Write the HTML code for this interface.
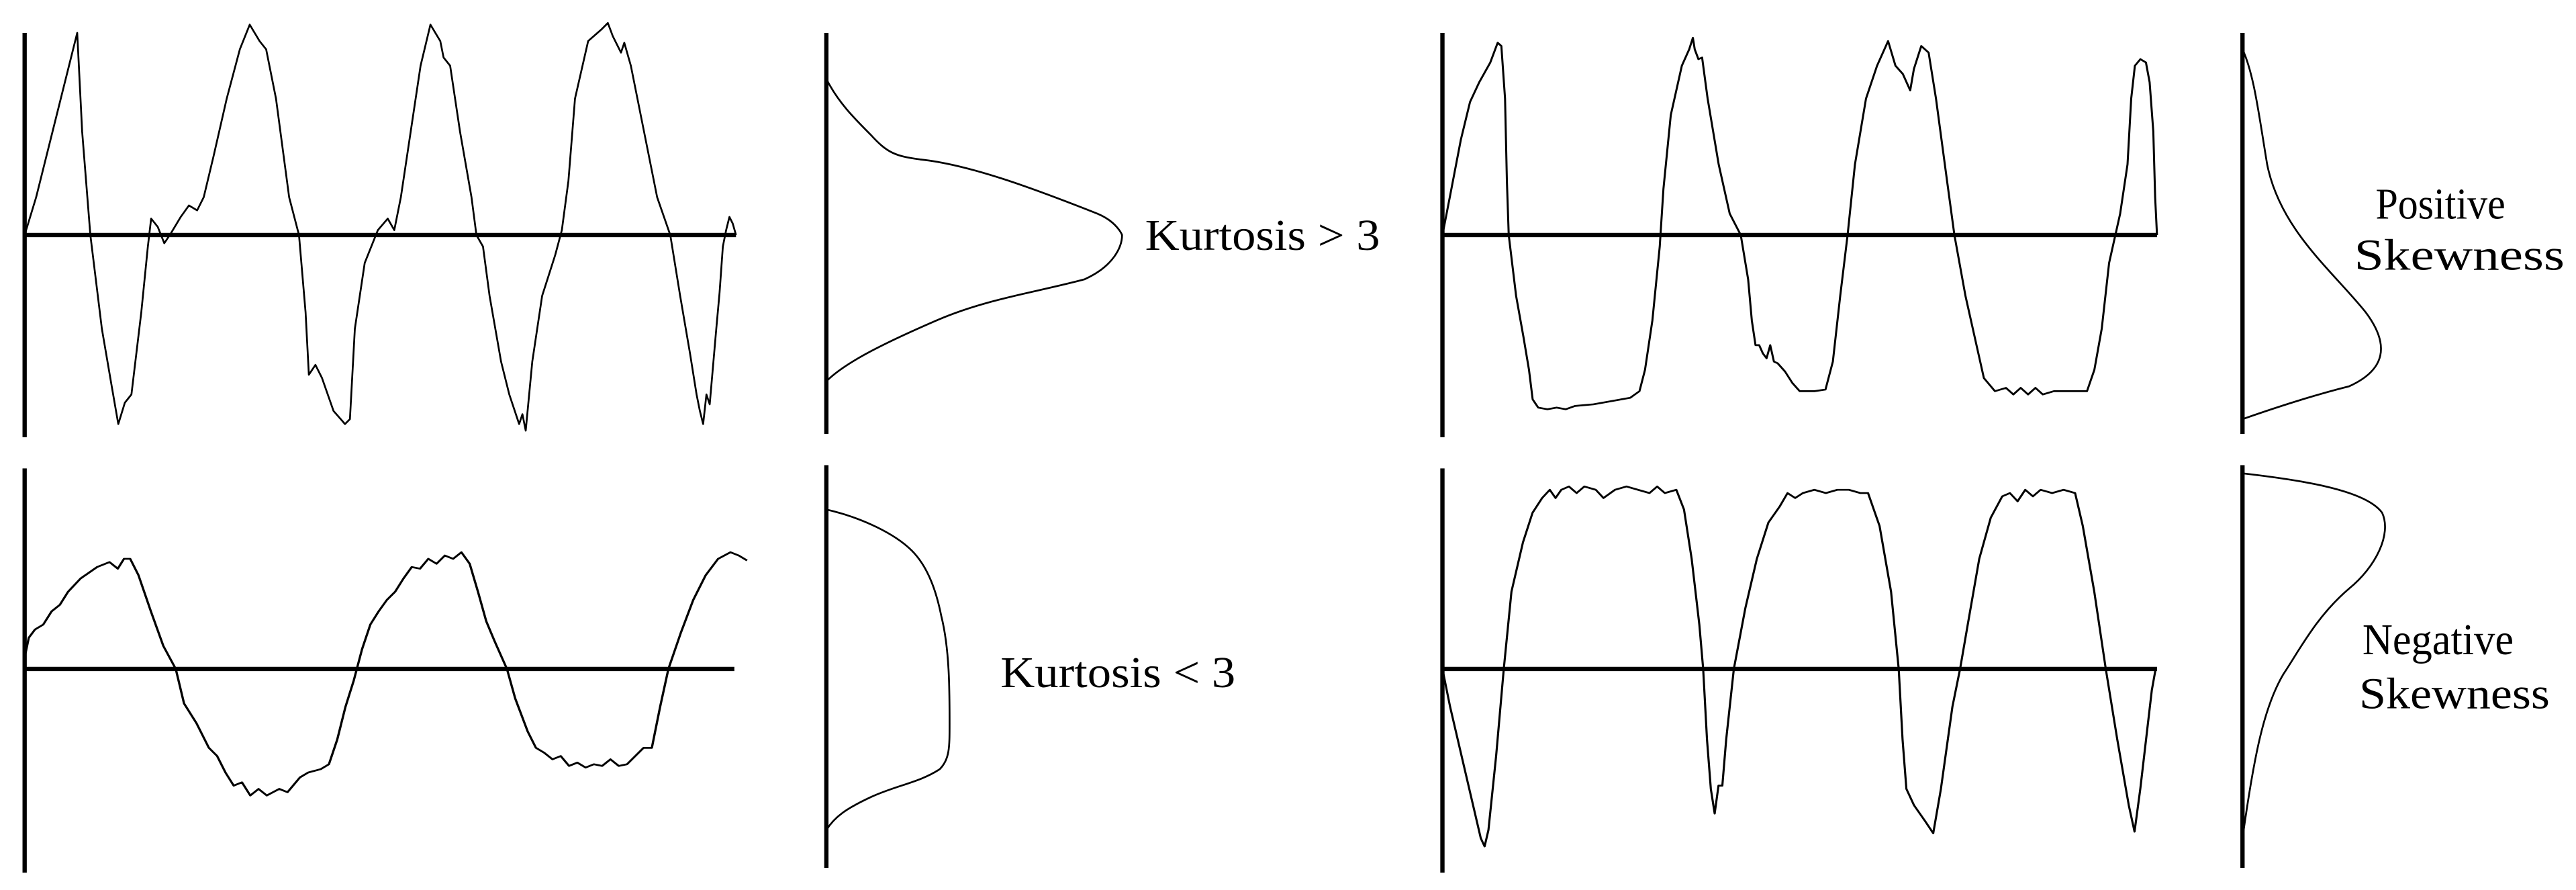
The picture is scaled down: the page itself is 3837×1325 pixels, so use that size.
<!DOCTYPE html>
<html><head><meta charset="utf-8"><style>
html,body{margin:0;padding:0;background:#fff;}
svg{display:block}
text{font-family:"Liberation Serif",serif;font-size:27px;fill:#000}
.ax{stroke:#000;stroke-width:2.6;fill:none}
.w{stroke:#000;stroke-width:1.1;fill:none;stroke-linejoin:round}
</style></head><body>
<svg width="3837" height="1325" viewBox="0 0 1568 541.5" preserveAspectRatio="none">
<!-- top-left -->
<line class="ax" x1="15" y1="20" x2="15" y2="266"/>
<line class="ax" x1="14" y1="143" x2="448" y2="143"/>
<polyline class="w" points="15,143 22,120 32,80 42,40 47,20 50,80 55,143 62,200 68,235 72,258 76,245 80,240 86,190 90,150 92,133 96,138 100,148 104,142 110,132 115,125 120,128 124,120 130,95 138,60 146,30 152,15 155,20 158,25 162,30 168,60 176,120 182,143 186,190 188,228 192,222 196,230 203,250 210,258 213,255 216,200 222,160 230,140 236,133 240,140 244,120 250,80 256,40 262,15 268,25 270,35 274,40 280,80 287,120 290,143 294,150 298,180 305,220 310,240 316,258 318,252 320,262 324,220 330,180 338,155 342,140 346,110 350,60 358,25 366,18 370,14 373,22 376,28 378,32 380,26 384,40 392,80 400,120 408,143 414,180 420,215 424,240 426,250 428,258 430,240 432,246 436,200 438,178 440,150 442,140 444,132 446,136 448,143"/>
<line class="ax" x1="503" y1="20" x2="503" y2="264"/>
<path class="w" d="M503,48 C510,62 520,72 530,82 C540,93 545,95 560,97 C590,100 630,115 668,130 C680,135 683,143 683,143 C683,150 678,162 660,170 C630,178 600,182 570,195 C540,208 515,220 503,232"/>
<text x="697" y="152" textLength="143" lengthAdjust="spacingAndGlyphs">Kurtosis &gt; 3</text>
<!-- bottom-left -->
<line class="ax" x1="15" y1="285" x2="15" y2="531"/>
<line class="ax" x1="14" y1="407" x2="447" y2="407"/>
<g transform="translate(15,0) scale(1.26,1) translate(-15,0)">
<polyline class="w" points="15,400 17,388 20,383 24,380 28,372 32,368 36,360 42,352 50,345 56,342 60,346 63,340 66,340 70,350 76,372 82,393 88,407 92,428 98,440 104,455 108,460 112,470 116,478 120,476 124,484 128,480 132,484 138,480 142,482 148,473 152,470 158,468 162,465 166,450 170,430 174,414 178,395 182,380 186,372 190,365 194,360 198,352 202,345 206,346 210,340 214,343 218,338 222,340 226,336 230,343 234,360 238,378 242,390 248,407 252,425 258,445 262,455 266,458 270,462 274,460 278,466 282,464 286,467 290,465 294,466 298,462 302,466 306,465 310,460 314,455 318,455 322,430 326,407 332,385 338,365 344,350 350,340 356,336 360,338 364,341"/>
</g>
<line class="ax" x1="503" y1="283" x2="503" y2="528"/>
<path class="w" d="M503,310 C525,315 545,325 555,335 C565,345 570,360 573,375 C578,395 578,420 578,440 C578,455 578,462 572,468 C560,476 545,478 530,485 C515,492 508,497 503,505"/>
<text x="609" y="418" textLength="143" lengthAdjust="spacingAndGlyphs">Kurtosis &lt; 3</text>
<!-- top-right -->
<line class="ax" x1="878" y1="20" x2="878" y2="266"/>
<line class="ax" x1="877" y1="143" x2="1313" y2="143"/>
<g transform="translate(878,0) scale(1.121,1) translate(-878,0)">
<polyline class="w" points="878,143 882,120 888,85 893,62 898,50 904,38 908,26 910,28 912,60 913,110 914,143 918,180 922,205 925,225 927,243 930,248 935,249 940,248 945,249 950,247 960,246 970,244 980,242 985,238 988,225 992,195 996,150 998,115 1002,70 1008,40 1012,30 1014,23 1015,30 1017,36 1019,35 1022,60 1028,100 1034,130 1040,143 1044,170 1046,195 1048,210 1050,210 1052,215 1054,218 1056,210 1058,220 1060,221 1064,226 1068,233 1072,238 1080,238 1086,237 1090,220 1094,180 1098,143 1102,100 1108,60 1114,40 1118,30 1120,25 1124,40 1128,45 1132,55 1134,42 1138,28 1142,32 1146,60 1152,110 1156,143 1162,180 1168,210 1172,230 1178,238 1184,236 1188,240 1192,236 1196,240 1200,236 1204,240 1210,238 1220,238 1228,238 1232,225 1236,200 1240,160 1246,130 1250,100 1252,60 1254,40 1257,36 1260,38 1262,50 1264,80 1265,120 1266,143"/>
</g>
<line class="ax" x1="1365" y1="20" x2="1365" y2="264"/>
<path class="w" d="M1365,30 C1372,45 1375,70 1380,100 C1388,140 1420,165 1440,190 C1455,210 1452,225 1430,235 C1410,240 1385,248 1365,255"/>
<text x="1446" y="133" textLength="79" lengthAdjust="spacingAndGlyphs">Positive</text>
<text x="1433" y="164" textLength="128" lengthAdjust="spacingAndGlyphs">Skewness</text>
<!-- bottom-right -->
<line class="ax" x1="878" y1="285" x2="878" y2="531"/>
<line class="ax" x1="877" y1="407" x2="1313" y2="407"/>
<g transform="translate(878,0) scale(1.167,1) translate(-878,0)">
<polyline class="w" points="878,407 882,430 888,460 894,490 898,510 900,515 902,505 906,460 910,407 914,360 920,330 925,312 930,303 934,298 937,303 940,298 944,296 948,300 952,296 958,298 962,303 968,298 974,296 980,298 986,300 990,296 994,300 1000,298 1004,310 1008,340 1012,380 1014,407 1016,450 1018,480 1020,495 1022,478 1024,478 1026,450 1030,407 1036,370 1042,340 1048,318 1054,308 1058,300 1062,303 1066,300 1072,298 1078,300 1084,298 1090,298 1096,300 1100,300 1106,320 1112,360 1116,407 1118,450 1120,480 1124,490 1130,500 1134,507 1138,480 1144,430 1148,407 1152,380 1158,340 1164,315 1170,302 1174,300 1178,305 1182,298 1186,302 1190,298 1196,300 1202,298 1208,300 1212,320 1218,360 1224,407 1230,450 1236,490 1239,506 1242,480 1246,440 1248,420 1250,407"/>
</g>
<line class="ax" x1="1365" y1="283" x2="1365" y2="528"/>
<path class="w" d="M1365,288 C1400,292 1440,298 1450,312 C1456,325 1446,345 1430,358 C1410,375 1400,395 1390,410 C1378,430 1372,460 1365,510"/>
<text x="1438" y="398" textLength="92" lengthAdjust="spacingAndGlyphs">Negative</text>
<text x="1436" y="431" textLength="116" lengthAdjust="spacingAndGlyphs">Skewness</text>
</svg>
</body></html>
